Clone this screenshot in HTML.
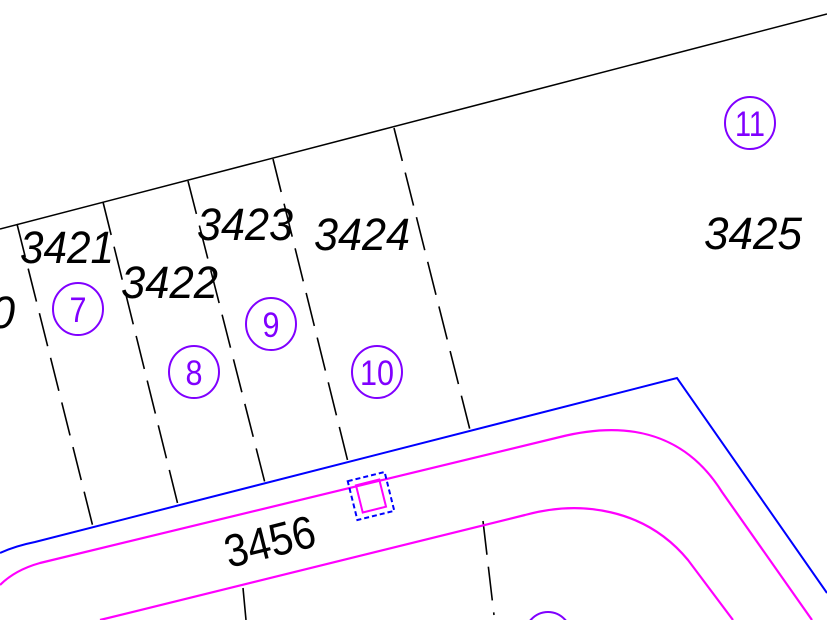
<!DOCTYPE html>
<html><head><style>html,body{margin:0;padding:0;background:#fff;overflow:hidden;width:827px;height:620px}svg{display:block}</style></head>
<body>
<svg width="827" height="620" viewBox="0 0 827 620" xmlns="http://www.w3.org/2000/svg">
<line x1="0" y1="229" x2="827" y2="14" stroke="#000" stroke-width="1.5"/>
<g stroke="#000" stroke-width="1.6" stroke-dasharray="34,12" fill="none">
<line x1="17" y1="224" x2="93" y2="527"/>
<line x1="103" y1="202" x2="178" y2="505"/>
<line x1="188" y1="181" x2="265" y2="483"/>
<line x1="273" y1="159" x2="348" y2="462"/>
<line x1="394" y1="128" x2="470" y2="430"/>
<line x1="483" y1="521" x2="494" y2="615"/>
<line x1="243" y1="588" x2="246" y2="620"/>
</g>
<path d="M0,553 Q15,546 35,542 L677,378 L827,593" stroke="#0000ff" stroke-width="2" fill="none"/>
<path d="M0,585 Q15,570 40,563 L560,437 C620,422 682,428 722,492 L812,620" stroke="#ff00ff" stroke-width="2.2" fill="none"/>
<path d="M100,620 L525,515 C580,500 645,508 688,560 L733,620" stroke="#ff00ff" stroke-width="2.2" fill="none"/>
<g transform="rotate(-14 371 496)">
<rect x="352" y="476" width="38" height="40" stroke="#0000ff" stroke-width="2" stroke-dasharray="5,3" fill="none"/>
<rect x="359" y="482" width="24" height="28" stroke="#ff00ff" stroke-width="2" fill="none"/>
</g>
<g stroke="#8000ff" stroke-width="2" fill="none">
<ellipse cx="78" cy="309" rx="25" ry="26"/>
<ellipse cx="194" cy="372" rx="25" ry="26"/>
<ellipse cx="271" cy="324" rx="25" ry="26"/>
<ellipse cx="377" cy="372" rx="25" ry="26"/>
<ellipse cx="750" cy="123" rx="25" ry="26"/>
<ellipse cx="548" cy="638" rx="24" ry="26"/>
</g>
<g fill="#8000ff" font-family="Liberation Sans, sans-serif" font-size="35" text-anchor="middle">
<text x="78" y="322" textLength="17" lengthAdjust="spacingAndGlyphs">7</text>
<text x="194" y="385" textLength="17" lengthAdjust="spacingAndGlyphs">8</text>
<text x="271" y="337" textLength="17" lengthAdjust="spacingAndGlyphs">9</text>
<text x="377" y="385" textLength="34" lengthAdjust="spacingAndGlyphs">10</text>
<text x="750" y="136" textLength="30" lengthAdjust="spacingAndGlyphs">11</text>
</g>
<g fill="#000" font-family="Liberation Sans, sans-serif" font-size="45" font-style="italic">
<text x="-10" y="328">0</text>
<text x="20" y="263" textLength="94" lengthAdjust="spacingAndGlyphs">3421</text>
<text x="121" y="298" textLength="97" lengthAdjust="spacingAndGlyphs">3422</text>
<text x="197" y="240" textLength="96" lengthAdjust="spacingAndGlyphs">3423</text>
<text x="314" y="250" textLength="96" lengthAdjust="spacingAndGlyphs">3424</text>
<text x="704" y="249" textLength="98" lengthAdjust="spacingAndGlyphs">3425</text>
</g>
<text x="0" y="0" transform="translate(229,568) rotate(-14)" font-family="Liberation Sans, sans-serif" font-size="46" fill="#000" textLength="92" lengthAdjust="spacingAndGlyphs">3456</text>
</svg>
</body></html>
